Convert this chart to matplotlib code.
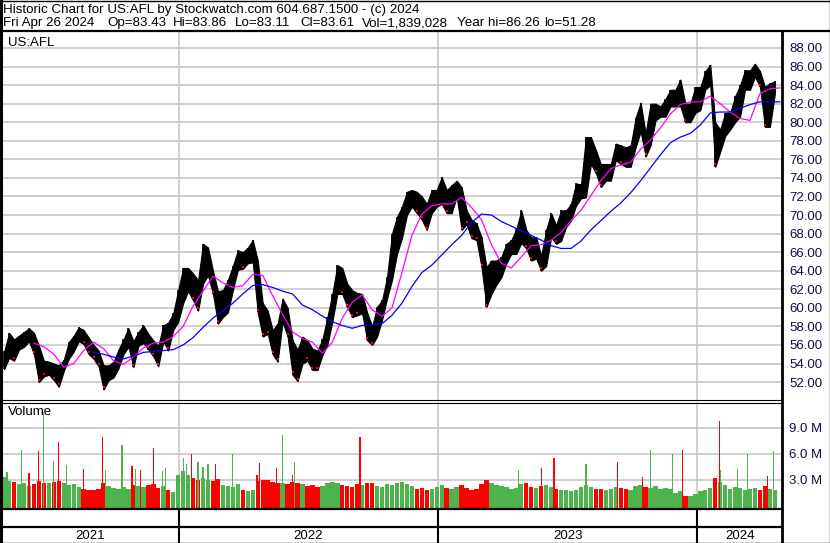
import numpy as np
import pandas as pd
import matplotlib
matplotlib.use("Agg")
import matplotlib.pyplot as plt
from matplotlib.lines import Line2D

plt.rcParams['font.family'] = ['Liberation Sans', 'DejaVu Sans']

# weekly price ranges (week centres every 7 days)
wk_dates = pd.date_range('2021-04-30', periods=156, freq='7D')
wk_high = [
    55.3, 57.3, 56.6, 57.0, 57.4, 57.8, 57.3, 55.9, 54.3, 54.2,
    54.0, 53.8, 54.4, 56.3, 57.0, 57.9, 57.6, 56.8, 56.0, 55.4,
    53.8, 53.8, 54.2, 55.5, 56.6, 57.8, 56.4, 57.4, 58.1, 57.2,
    56.5, 55.9, 58.1, 58.4, 59.4, 61.9, 64.3, 64.3, 63.7, 63.0,
    66.9, 66.5, 64.0, 61.8, 61.9, 63.0, 64.5, 66.2, 66.0, 66.5,
    67.3, 65.1, 60.5, 59.7, 57.6, 58.3, 61.0, 60.0, 56.5, 55.5,
    56.9, 56.5, 55.6, 55.4, 56.6, 59.0, 61.5, 64.6, 64.3, 62.6,
    61.9, 61.6, 61.5, 59.5, 58.0, 60.1, 60.8, 63.3, 68.0, 69.8,
    70.9, 72.5, 72.7, 72.5, 72.0, 71.2, 72.7, 72.7, 74.1, 72.7,
    73.2, 73.7, 73.0, 70.5, 69.5, 69.1, 67.6, 64.4, 65.1, 65.1,
    65.5, 66.9, 67.3, 68.5, 70.5, 68.4, 67.6, 67.6, 65.6, 68.4,
    70.2, 68.9, 70.5, 70.5, 71.2, 73.4, 73.3, 78.4, 78.4, 77.0,
    75.5, 75.5, 75.5, 77.7, 77.5, 77.3, 77.5, 80.5, 82.1, 78.8,
    82.0, 82.0, 81.7, 82.5, 83.5, 83.5, 84.6, 82.0, 82.0, 83.8,
    83.8, 85.5, 86.2, 80.0, 79.2, 81.0, 81.0, 82.8, 84.0, 85.6,
    85.6, 86.3, 85.5, 83.8, 84.2, 84.4]
wk_low = [
    53.4, 54.6, 54.3, 55.5, 55.8, 56.4, 55.0, 52.0, 52.6, 52.8,
    52.2, 51.5, 53.2, 54.5, 55.3, 56.4, 56.1, 55.0, 54.5, 53.7,
    51.2, 52.2, 52.5, 53.5, 55.0, 55.8, 53.6, 55.9, 56.2, 55.5,
    54.8, 53.7, 56.4, 55.4, 57.6, 58.5, 60.5, 61.8, 60.8, 59.7,
    62.6, 63.5, 61.5, 58.3, 59.0, 59.5, 61.9, 64.1, 64.2, 64.8,
    64.9, 59.5, 56.9, 57.2, 55.0, 54.2, 58.5, 56.9, 52.8, 52.1,
    54.0, 54.3, 53.3, 53.3, 54.9, 56.0, 58.5, 61.5, 61.5, 60.1,
    59.0, 59.2, 59.4, 56.5, 56.0, 56.9, 58.7, 61.0, 63.0, 65.8,
    67.5, 70.0, 70.9, 70.2, 69.5, 68.4, 70.2, 70.9, 71.2, 70.2,
    70.2, 72.0, 68.4, 69.0, 67.5, 67.3, 64.4, 60.1, 61.5, 62.5,
    63.3, 64.8, 65.8, 65.8, 67.0, 66.4, 65.1, 65.3, 64.0, 64.5,
    67.6, 66.9, 67.2, 68.7, 69.4, 71.0, 71.8, 71.9, 75.5, 74.5,
    73.0, 73.7, 73.7, 75.9, 75.5, 75.2, 75.2, 77.3, 79.0, 76.3,
    77.5, 80.2, 80.6, 80.6, 81.7, 81.7, 81.7, 80.0, 80.0, 81.0,
    81.3, 83.5, 84.0, 75.2, 76.8, 78.5, 79.2, 80.0, 80.6, 83.5,
    83.5, 84.9, 83.8, 79.5, 79.5, 83.1]

# weekly volume (millions)
wk_vol = [
    3.4, 2.9, 2.8, 2.5, 2.7, 2.3, 2.5, 2.9, 2.6, 2.6,
    2.8, 2.9, 2.6, 2.4, 2.5, 2.2, 2.0, 1.9, 1.8, 2.0,
    2.6, 2.3, 2.1, 2.0, 2.2, 2.0, 2.4, 2.3, 2.2, 2.4,
    2.5, 2.1, 2.3, 1.8, 1.6, 3.6, 4.0, 3.6, 3.2, 3.0,
    3.2, 3.0, 2.9, 3.1, 2.4, 2.3, 2.2, 2.5, 1.9, 1.7,
    1.8, 2.9, 3.0, 3.0, 2.8, 2.6, 2.7, 2.5, 2.8, 2.6,
    2.5, 2.3, 2.4, 2.2, 2.3, 2.6, 2.8, 2.6, 2.4, 2.3,
    2.2, 2.5, 2.4, 2.7, 2.6, 2.3, 2.2, 2.5, 2.4, 2.6,
    2.8, 2.5, 2.3, 2.0, 2.1, 1.9, 2.0, 2.2, 2.4, 2.1,
    2.0, 2.2, 2.4, 2.1, 1.9, 2.0, 2.5, 3.0, 2.7, 2.4,
    2.3, 2.2, 2.0, 2.1, 2.5, 2.6, 2.2, 2.1, 2.3, 2.4,
    2.2, 2.0, 1.9, 1.8, 1.7, 1.9, 2.2, 2.4, 2.2, 2.0,
    2.0, 1.9, 2.0, 2.2, 2.1, 2.0, 1.8, 2.3, 2.4, 2.2,
    2.1, 2.3, 2.0, 2.1, 2.0, 1.5, 1.7, 1.2, 1.1, 1.4,
    1.7, 1.9, 2.1, 3.2, 2.8, 2.4, 2.0, 2.2, 2.1, 1.9,
    2.0, 2.1, 1.9, 2.3, 2.0, 1.8]

# single heavy-volume days
spike_dates = pd.to_datetime([
    '2021-05-04', '2021-05-25', '2021-06-04', '2021-06-17', '2021-06-24',
    '2021-07-08', '2021-07-15', '2021-07-27', '2021-08-20', '2021-09-15',
    '2021-09-20', '2021-10-13', '2021-10-27', '2021-11-01', '2021-11-08',
    '2021-11-26', '2021-12-09', '2021-12-13', '2022-01-07', '2022-01-12',
    '2022-01-19', '2022-01-28', '2022-02-04', '2022-02-11', '2022-02-22',
    '2022-03-17', '2022-04-21', '2022-04-25', '2022-05-18', '2022-05-27',
    '2022-06-10', '2022-06-13', '2022-09-13',
    '2023-04-24', '2023-05-26', '2023-06-13', '2023-07-28', '2023-09-11',
    '2023-10-16', '2023-10-27', '2023-11-27', '2023-12-11', '2024-02-01',
    '2024-02-02', '2024-02-26', '2024-03-12', '2024-04-09', '2024-04-17'])
spike_vol = [3.9, 6.5, 3.8, 6.4, 10.9,
             5.2, 7.4, 4.7, 4.3, 8.0,
             4.1, 7.0, 4.6, 4.3, 4.2,
             6.7, 4.0, 4.4, 5.5, 4.9,
             6.0, 5.1, 4.5, 4.9, 4.8,
             6.0, 3.6, 5.0, 4.4, 8.2,
             3.6, 5.1, 8.0,
             4.2, 4.4, 5.5, 4.9, 5.1,
             3.4, 6.5, 6.0, 6.5, 9.8,
             4.1, 4.3, 6.0, 3.5, 6.3]
spike_up = [1, 1, 0, 0, 1,
            1, 0, 1, 0, 0,
            1, 1, 0, 1, 0,
            0, 1, 1, 1, 1,
            0, 1, 1, 1, 0,
            1, 0, 0, 0, 1,
            0, 1, 0,
            1, 0, 0, 1, 0,
            0, 1, 1, 0, 0,
            1, 1, 1, 0, 1]

# moving averages sampled every two weeks
ma50_dates = pd.date_range('2021-06-11', periods=76, freq='14D')
ma50 = [
    56.2, 55.8, 55.0, 53.6, 54.0, 55.4, 56.3, 55.6, 54.3, 53.9,
    54.7, 55.7, 56.2, 56.3, 56.9, 58.0, 60.2, 61.8, 63.4, 62.7,
    62.2, 62.4, 63.6, 63.5, 61.3, 59.3, 57.4, 56.7, 56.3, 55.1,
    56.3, 58.9, 60.6, 61.4, 59.8, 59.1, 60.0, 63.8, 67.8, 70.1,
    71.0, 71.2, 71.2, 71.9, 70.8, 69.5, 66.8, 64.8, 64.3, 65.5,
    66.7, 66.8, 67.3, 68.1, 69.4, 70.5, 72.1, 73.7, 75.0, 75.4,
    75.7, 77.1, 78.1, 79.4, 80.9, 81.9, 82.2, 82.2, 82.8, 82.0,
    81.1, 80.4, 80.2, 83.1, 83.6, 83.7]
ma200_dates = pd.date_range('2021-09-03', periods=70, freq='14D')
ma200 = [
    55.2, 55.0, 54.7, 54.5, 54.8, 55.2, 55.3, 55.4, 55.5, 56.0,
    56.8, 57.9, 58.9, 59.7, 60.5, 61.5, 62.4, 62.5, 62.2, 61.8,
    61.5, 60.3, 59.8, 59.1, 58.5, 58.1, 57.8, 58.1, 58.2, 58.3,
    59.2, 60.5, 62.3, 63.8, 64.6, 65.7, 66.8, 67.8, 69.2, 70.1,
    70.0, 69.3, 68.8, 68.3, 67.8, 67.3, 66.7, 66.4, 66.4, 67.2,
    68.4, 69.4, 70.4, 71.3, 72.4, 73.7, 75.1, 76.5, 77.8, 78.4,
    78.8, 79.7, 81.0, 81.1, 81.1, 81.5, 81.9, 82.2, 82.2, 82.2]

price_ticks = np.arange(52, 89, 2)
vol_ticks = [3, 6, 9]
years = [2021, 2022, 2023, 2024]

title1 = "Historic Chart for US:AFL by Stockwatch.com 604.687.1500 - (c) 2024"
title2_parts = ["Fri Apr 26 2024", "Op=83.43", "Hi=83.86", "Lo=83.11",
                "Cl=83.61", "Vol=1,839,028", "Year hi=86.26", "lo=51.28"]
title2_x = [3, 107, 173, 235, 300, 362, 457, 544]

W, H = 830, 543
fig = plt.figure(figsize=(W / 100, H / 100), dpi=100)
fig.patch.set_facecolor('white')


def box(x, y, w, h):
    return [x / W, 1 - (y + h) / H, w / W, h / H]


grid_c = '#c8c8c8'
lab_c = '#101040'
green = '#4db34d'
red = '#ff0000'
x0, x1 = pd.Timestamp('2021-04-27'), pd.Timestamp('2024-04-29')
year_starts = [pd.Timestamp(f'{y}-01-01') for y in years[1:]]

# price panel
ax = fig.add_axes(box(2, 31, 780, 369))
ax.set_xlim(x0, x1)
ax.set_ylim(50.07, 89.83)
for p in price_ticks:
    ax.axhline(p, color=grid_c, lw=1.2, zorder=0)
for d in year_starts:
    ax.axvline(d, color=grid_c, lw=1.2, zorder=0)
ax.fill_between(wk_dates, wk_low, wk_high, color='black', lw=0.8,
                edgecolor='black', zorder=2)
ax.vlines(wk_dates, wk_low, wk_high, color='black', lw=1.2, zorder=2)
mid = (np.array(wk_high) + np.array(wk_low)) / 2
down = np.r_[False, np.diff(mid) < 0]
ax.scatter(wk_dates[down], np.array(wk_low)[down] + 0.25, s=3, marker='s',
           color=red, lw=0, zorder=3)
ax.plot(ma50_dates, ma50, color='#ff00ff', lw=0.9, zorder=4)
ax.plot(ma200_dates, ma200, color='#0000ff', lw=0.9, zorder=4)
ax.set_yticks(price_ticks)
ax.set_yticklabels([f'{p:.2f}' for p in price_ticks])
ax.yaxis.tick_right()
ax.tick_params(axis='y', length=0, pad=5, labelsize=9.5, labelcolor=lab_c)
ax.set_xticks([])
for s in ax.spines.values():
    s.set_visible(False)
ax.text(0.008, 0.985, 'US:AFL', transform=ax.transAxes, fontsize=9.5,
        va='top', ha='left')

# volume panel
av = fig.add_axes(box(2, 402, 780, 107))
av.set_xlim(x0, x1)
base = -0.35
av.set_ylim(base, 12.0)
for v in vol_ticks:
    av.axhline(v, color=grid_c, lw=1.2, zorder=0)
for d in year_starts:
    av.axvline(d, color=grid_c, lw=1.2, zorder=0)
wk_col = [green if not dn else red for dn in down]
av.bar(wk_dates, np.array(wk_vol) - base, bottom=base, width=6.2,
       color=wk_col, lw=0, zorder=2)
sp_col = [green if u else red for u in spike_up]
av.bar(spike_dates, np.array(spike_vol) - base, bottom=base, width=1.6,
       color=sp_col, lw=0, zorder=3)
av.set_yticks(vol_ticks)
av.set_yticklabels([f'{v:.1f} M' for v in vol_ticks])
av.yaxis.tick_right()
av.tick_params(axis='y', length=0, pad=5, labelsize=9.5, labelcolor=lab_c)
av.set_xticks([])
for s in av.spines.values():
    s.set_visible(False)
av.text(0.008, 0.96, 'Volume', transform=av.transAxes, fontsize=9.5,
        va='top', ha='left')

# date strip with year labels
ay = fig.add_axes(box(2, 509, 780, 34))
ay.set_xlim(x0, x1)
ay.set_ylim(0, 1)
ay.axis('off')
for d in year_starts:
    ay.axvline(d, color='black', lw=1.5)
edges = [x0] + year_starts + [x1]
for i, y in enumerate(years):
    c = edges[i] + (edges[i + 1] - edges[i]) / 2
    ay.text(c, 0.2, str(y), ha='center', va='center', fontsize=9.5)


# frame lines in pixel positions
def hline(y, lw, xa=0, xb=W):
    fig.add_artist(Line2D([xa / W, xb / W], [1 - y / H, 1 - y / H],
                          color='black', lw=lw, transform=fig.transFigure))


def vline(x, lw, ya=0, yb=H):
    fig.add_artist(Line2D([x / W, x / W], [1 - ya / H, 1 - yb / H],
                          color='black', lw=lw, transform=fig.transFigure))


hline(0.5, 1.0)
hline(31, 1.6)
hline(400, 0.8, 0, 782)
hline(402.5, 0.8, 0, 782)
hline(509, 1.6, 0, 782)
hline(527, 1.6, 0, 782)
hline(542.5, 1.0)
vline(1, 2.2)
vline(782, 2.0, 31, H)
vline(829.5, 1.0)

fig.text(3 / W, 1 - 10 / H, title1, fontsize=9.6, va='center', ha='left')
for t, xp in zip(title2_parts, title2_x):
    fig.text(xp / W, 1 - 23 / H, t, fontsize=9.6, va='center', ha='left')

fig.savefig('out.png', dpi=100)
